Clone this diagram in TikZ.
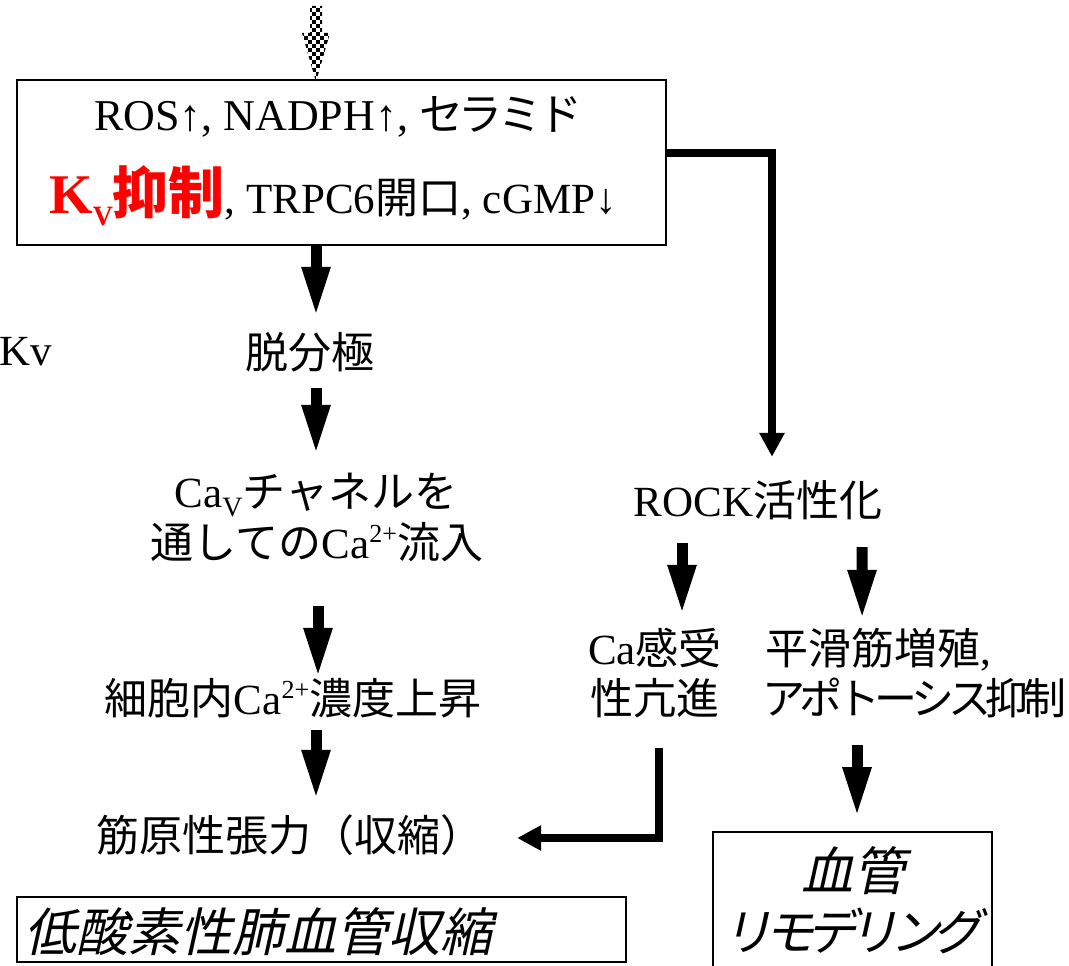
\documentclass[tikz,border=0pt]{standalone}
\usepackage{fontspec}
\setmainfont{Liberation Serif}
\newfontfamily\jp{Noto Sans CJK JP}
\newfontfamily\jpk[LetterSpace=-10]{Noto Sans CJK JP}
\newfontfamily\jpp[LetterSpace=-13]{Noto Sans CJK JP}
\newfontfamily\jpit[FakeSlant=0.22]{Noto Sans CJK JP}
\newfontfamily\jpitp[LetterSpace=-16, FakeSlant=0.22]{Noto Sans CJK JP}
\usetikzlibrary{arrows.meta,calc}
\newcommand\subV{\raisebox{-0.22em}{\fontsize{28}{28}\selectfont V}}
\newcommand\supTwo{\raisebox{0.36em}{\fontsize{26}{26}\selectfont 2+}}
\begin{document}
\begin{tikzpicture}[x=1pt,y=-1pt,
  txt/.style={inner sep=0pt, anchor=base, font=\fontsize{43}{51}\selectfont, text height=34pt, text depth=8pt},
  txtw/.style={txt, anchor=base west},
  fat/.style={line width=11pt, -{Triangle[width=26pt,length=50pt]}},
  path8/.style={line width=8pt, line join=miter, -{Triangle[width=24pt,length=24pt]}},
  frame/.style={draw, line width=1.6pt, inner sep=0pt},
  ittxt/.style={inner sep=0pt, font=\jpit\fontsize{52}{60}\selectfont}
]
\useasboundingbox (0,0) rectangle (1069,966);

% checkered input arrow
\begin{scope}
  \clip (310,6) -- (322,6) -- (322,33) -- (330,33) -- (316,82) -- (302,33) -- (310,33) -- cycle;
  \foreach \i in {0,...,8}{\foreach \j in {0,...,21}{
    \pgfmathtruncatemacro\pp{mod(\i+\j,2)}
    \ifnum\pp=0 \fill (300+4*\i,4*\j) rectangle ++(4,4);\fi}}
\end{scope}

% top box
\node[frame, minimum width=649pt, minimum height=165pt] (box) at (341.5,162.5) {};
\node[txt, font=\fontsize{44}{51}\selectfont] (l1) at (338,130) {ROS↑, NADPH↑, {\jpk セラミド}};
\node[txt] (l2) at (333,213) {{\color{red}\bfseries\fontsize{56}{56}\selectfont K\subV{\jp 抑制}}, TRPC6{\jp 開口}, cGMP↓};

% left column
\node[txtw] (kv) at (-1,365) {Kv};
\node[txt] (dep) at (310,368) {\jp 脱分極};
\node[txt] (ch1) at (316,507) {Ca\subV{\jp チャネルを}};
\node[txt] (ch2) at (317,558) {{\jp 通しての}Ca\supTwo{\jp 流入}};
\node[txt] (cai) at (293,714) {{\jp 細胞内}Ca\supTwo{\jp 濃度上昇}};
\node[txt] (kin) at (290,851) {\jp 筋原性張力（収縮）};
\node[frame, minimum width=609pt, minimum height=65pt] (hpv) at (321.5,929.5) {};
\node[ittxt, anchor=base west] (hpvt) at (24,951) {低酸素性肺血管収縮};

% right column
\node[txt] (rock) at (758,516) {ROCK{\jp 活性化}};
\node[txt] (cs1) at (655,664) {Ca{\jp 感受}};
\node[txt] (cs2) at (655,714) {\jp 性亢進};
\node[txtw] (sm1) at (765,664) {{\jp 平滑筋増殖},};
\node[txtw] (sm2) at (762,714) {\jpp アポトーシス抑制};
\node[frame, minimum width=279pt, minimum height=160pt] (rem) at (852.5,912) {};
\node[ittxt, anchor=base] (rem1) at (853,890) {血管};
\node[ittxt, anchor=base, font=\jpitp\fontsize{50}{60}\selectfont] (rem2) at (852,950) {リモデリング};

% connectors
\draw[fat] ($(box.south)+(-25.5,0)$) -- ($(dep.north)+(6,-17)$);
\draw[fat] ($(dep.south)+(6,12)$) -- ($(ch1.north)+(0,-18)$);
\draw[fat] ($(ch2.south)+(1,40)$) -- ($(cai.north)+(25,-2)$);
\draw[fat] ($(cai.south)+(23,8)$) -- ($(kin.north)+(26,-17)$);
\draw[fat] ($(rock.south)+(-76,19)$) -- ($(cs1.north)+(27,-15)$);
\draw[fat] ($(rock.south)+(104,23)$) -- ($(sm1.north)+(-16,-10)$);
\draw[fat] ($(rem.north |- sm2.south)+(4.5,23)$) -- ($(rem.north)+(4.5,-14)$);
\draw[path8] ($(box.east)+(0,-9.5)$) -| ($(rock.north)+(14,-25)$);
\draw[path8] ($(cs2.south)+(4,26)$) |- ($(kin.east)+(33.5,0)$);
\end{tikzpicture}
\end{document}
